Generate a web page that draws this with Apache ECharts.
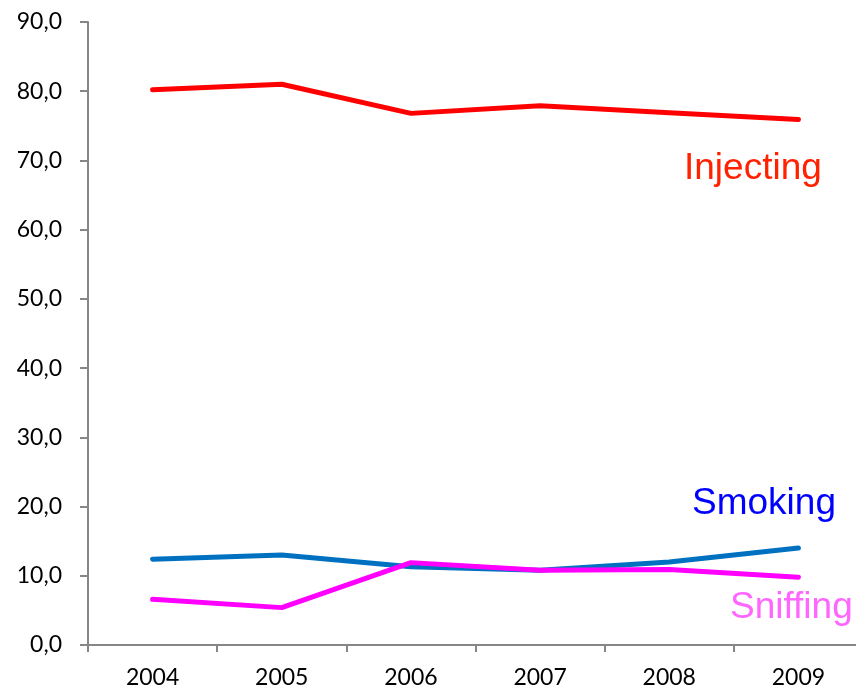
<!DOCTYPE html>
<html>
<head>
<meta charset="utf-8">
<script src="https://cdn.jsdelivr.net/npm/echarts@6/dist/echarts.min.js"></script>
<style>html,body{margin:0;padding:0;background:#fff;overflow:hidden}#c{width:870px;height:690px}</style>
</head>
<body>
<div id="c"></div>
<script>
const years = ['2004','2005','2006','2007','2008','2009'];
const injecting = [80.2, 81.0, 76.8, 77.9, 76.9, 75.9];
const smoking = [12.4, 13.0, 11.3, 10.8, 12.0, 14.0];
const sniffing = [6.6, 5.4, 11.9, 10.8, 10.9, 9.8];
const yTicks = [0, 10, 20, 30, 40, 50, 60, 70, 80, 90];

const chart = echarts.init(document.getElementById('c'));
const axisColor = '#868686';
const fontFam = 'Lato, "Open Sans", sans-serif';
chart.setOption({
  animation: false,
  grid: {left: 88, top: 22, width: 775, height: 623, containLabel: false},
  xAxis: {
    type: 'category', data: years, boundaryGap: true,
    axisLine: {lineStyle: {color: axisColor, width: 2}},
    axisTick: {show: true, length: 7, alignWithLabel: false, lineStyle: {color: axisColor, width: 2}},
    axisLabel: {color: '#000', fontSize: 23, fontFamily: fontFam, margin: 21}
  },
  yAxis: {
    type: 'value', min: yTicks[0], max: yTicks[yTicks.length-1], interval: 10,
    axisLine: {show: true, lineStyle: {color: axisColor, width: 2}},
    axisTick: {show: true, length: 8, lineStyle: {color: axisColor, width: 2}},
    splitLine: {show: false},
    axisLabel: {color: '#000', fontSize: 23, fontFamily: fontFam, margin: 26,
      formatter: v => v.toFixed(1).replace('.', ',')}
  },
  series: [
    {name: 'Injecting', type: 'line', data: injecting, symbol: 'none',
     lineStyle: {color: '#FF0000', width: 5, cap: 'round', join: 'round'}},
    {name: 'Smoking', type: 'line', data: smoking, symbol: 'none',
     lineStyle: {color: '#0070C0', width: 5, cap: 'round', join: 'round'}},
    {name: 'Sniffing', type: 'line', data: sniffing, symbol: 'none',
     lineStyle: {color: '#FF00FF', width: 5, cap: 'round', join: 'round'}}
  ],
  graphic: [
    {type: 'text', left: 684, top: 150, style: {text: 'Injecting', fill: '#FF2200', font: '37px "Liberation Sans", Arial, sans-serif'}},
    {type: 'text', left: 692, top: 485, style: {text: 'Smoking', fill: '#0000FF', font: '37px "Liberation Sans", Arial, sans-serif'}},
    {type: 'text', left: 730, top: 589, style: {text: 'Sniffing', fill: '#FF66FF', font: '37px "Liberation Sans", Arial, sans-serif'}}
  ]
});
</script>
</body>
</html>
